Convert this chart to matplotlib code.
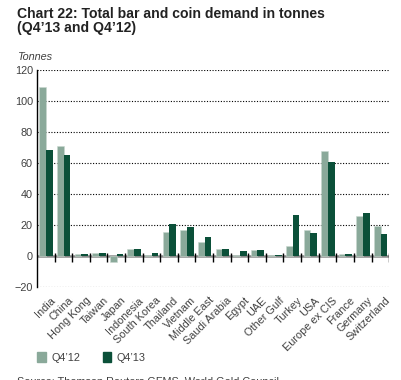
import numpy as np
import matplotlib.pyplot as plt
from matplotlib.patches import Rectangle

plt.rcParams['font.family'] = ['Liberation Sans', 'DejaVu Sans']

countries = ['India', 'China', 'Hong Kong', 'Taiwan', 'Japan', 'Indonesia',
             'South Korea', 'Thailand', 'Vietnam', 'Middle East', 'Saudi Arabia',
             'Egypt', 'UAE', 'Other Gulf', 'Turkey', 'USA', 'Europe ex CIS',
             'France', 'Germany', 'Switzerland']
q4_12 = [109.2, 70.9, 1.0, 1.7, -3.9, 4.3, 0.6, 15.3, 16.6, 8.8, 4.5,
         0.7, 3.7, 0.8, 6.3, 16.6, 67.5, 1.0, 25.9, 19.4]
q4_13 = [68.3, 65.3, 1.0, 1.7, 1.0, 4.3, 1.7, 20.5, 18.5, 12.0, 4.5,
         3.4, 3.7, 0.8, 26.7, 14.7, 60.8, 1.0, 27.6, 14.0]
yticks = [-20, 0, 20, 40, 60, 80, 100, 120]

light = '#8aa99a'
dark = '#0b5039'
grey = '#404040'

fig = plt.figure(figsize=(4.02, 3.80), dpi=100)
ax = fig.add_axes([0.092, 0.245, 0.876, 0.571])

x = np.arange(len(countries))
w = 0.38
ax.bar(x - w / 2 + 0.02, q4_12, w, color=light, edgecolor='#c8d8cf', linewidth=0.4, zorder=3)
ax.bar(x + w / 2 + 0.02, q4_13, w, color=dark, zorder=3)

ax.set_xlim(-0.5, len(countries) - 0.5)
ax.set_ylim(-20, 120)
ax.set_yticks(yticks)
ax.tick_params(axis='y', length=0, labelsize=7.8, labelcolor=grey, pad=3)
for t in yticks:
    if t != 0:
        ax.axhline(t, color='black', linestyle=(0, (1, 1.5)), linewidth=0.8, zorder=1)
ax.axhline(0, color='#8a8a8a', linewidth=1.8, zorder=2)

# category separators at zero line
ax.vlines(x + 0.5, -3.8, 1.8, color='black', linewidth=1.0, zorder=4)

ax.set_xticks(x + 0.25)
ax.set_xticklabels(countries, rotation=45, ha='right', rotation_mode='anchor',
                   fontsize=7.8, color=grey)
ax.tick_params(axis='x', length=0, pad=6)

for s in ['top', 'right', 'bottom']:
    ax.spines[s].set_visible(False)
ax.spines['left'].set_linewidth(1.0)
ax.spines['left'].set_color('black')

fig.text(0.042, 0.982, 'Chart 22: Total bar and coin demand in tonnes\n(Q4\u201913 and Q4\u201912)',
         fontsize=10.1, fontweight='bold', color='#222222', va='top', linespacing=1.05)
fig.text(0.042, 0.842, 'Tonnes', fontsize=7.8, style='italic', color=grey, va='baseline')

# legend
fig.patches.append(Rectangle((0.092, 0.047), 0.022, 0.026, color=light, transform=fig.transFigure))
fig.text(0.127, 0.059, 'Q4\u201912', fontsize=7.8, color=grey, va='center')
fig.patches.append(Rectangle((0.255, 0.047), 0.022, 0.026, color=dark, transform=fig.transFigure))
fig.text(0.29, 0.059, 'Q4\u201913', fontsize=7.8, color=grey, va='center')

fig.text(0.042, 0.0105, 'Source: Thomson Reuters GFMS, World Gold Council',
         fontsize=7.8, color=grey, va='top')

fig.savefig('out.png', dpi=100)
